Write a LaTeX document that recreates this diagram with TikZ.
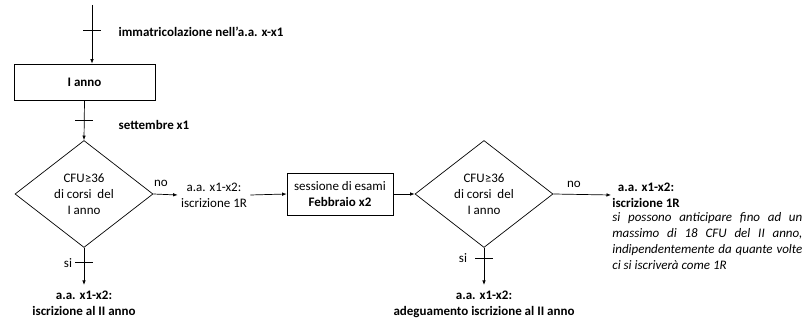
\documentclass[tikz,border=0pt]{standalone}
\usepackage{fontspec}
\setmainfont{Carlito}
\usetikzlibrary{shapes.geometric,arrows.meta}
\begin{document}
\begin{tikzpicture}[x=1pt,y=-1pt,line width=0.7pt,
  every node/.style={font=\fontsize{13}{15.9}\selectfont},
  boldlab/.style={font=\fontsize{13}{15.9}\selectfont\bfseries},
  box/.style={draw,minimum width=106pt,minimum height=42pt,align=center},
  test/.style={draw,diamond,aspect=1.28,minimum width=138pt,minimum height=107pt,inner sep=0pt,align=center},
  lab/.style={align=center,inner sep=3pt},
  arr/.style={-{Latex[length=4.5pt,width=3.5pt]}}]
\useasboundingbox (0,0) rectangle (807,320);
\coordinate (in) at (92,5);
\node[box,boldlab,minimum width=141pt,minimum height=36pt] (anno) at (84.5,82) {I anno};
\node[test] (cfuA) at (84,194) {CFU≥36\\di corsi\ \ del\\I anno};
\node[lab] (iscrA) at (214,195) {a.a. x1-x2:\\iscrizione 1R};
\node[box] (feb) at (340,194) {sessione di esami\\\bfseries Febbraio x2};
\node[test] (cfuB) at (484,194) {CFU≥36\\di corsi\ \ del\\I anno};
\node[lab,boldlab,anchor=west,inner sep=1pt] (iscrB) at (611,195) {a.a. x1-x2:\\iscrizione 1R};
\node[text width=190pt,align=justify,inner sep=0pt,anchor=north west] (nota) at (612,212)
  {\itshape si possono anticipare fino ad un\linebreak massimo di 18 CFU del II anno,\linebreak indipendentemente da quante volte\linebreak ci si iscriverà come 1R};
\node[lab,boldlab,anchor=north,inner sep=1pt] (iiA) at (84,290) {a.a. x1-x2:\\iscrizione al II anno};
\node[lab,boldlab,anchor=north,inner sep=1pt] (iiB) at (484,290) {a.a. x1-x2:\\adeguamento iscrizione al II anno};

\node[boldlab,anchor=west] (immatr) at (115,32) {immatricolazione nell'a.a. x-x1};
\node[boldlab,anchor=west] (sett) at (115,125) {settembre x1};
\node (noA) at (161,183) {no};
\node (noB) at (574,184) {no};
\node (siA) at (68,263) {si};
\node (siB) at (463,258) {si};

\draw[arr] (in) -- (in |- anno.north);
\draw[arr] (anno.south) -- (cfuA.north);
\draw[arr] (cfuA.east) -- (iscrA.west);
\draw[arr] (iscrA.east) -- (feb.west);
\draw[arr] (feb.east) -- (cfuB.west);
\draw[arr] (cfuB.east) -- (iscrB.west);
\draw[arr,shorten >=5pt] (cfuA.south) -- (iiA.north);
\draw[arr,shorten >=5pt] (cfuB.south) -- (iiB.north);

\coordinate (t1) at (92,30);
\coordinate (t2) at (84,120);
\coordinate (t3) at (84,262);
\coordinate (t4) at (484,258);
\foreach \t in {t1,t2,t3,t4}
  \draw (\t) ++(-9,0) -- ++(18,0);
\end{tikzpicture}
\end{document}
